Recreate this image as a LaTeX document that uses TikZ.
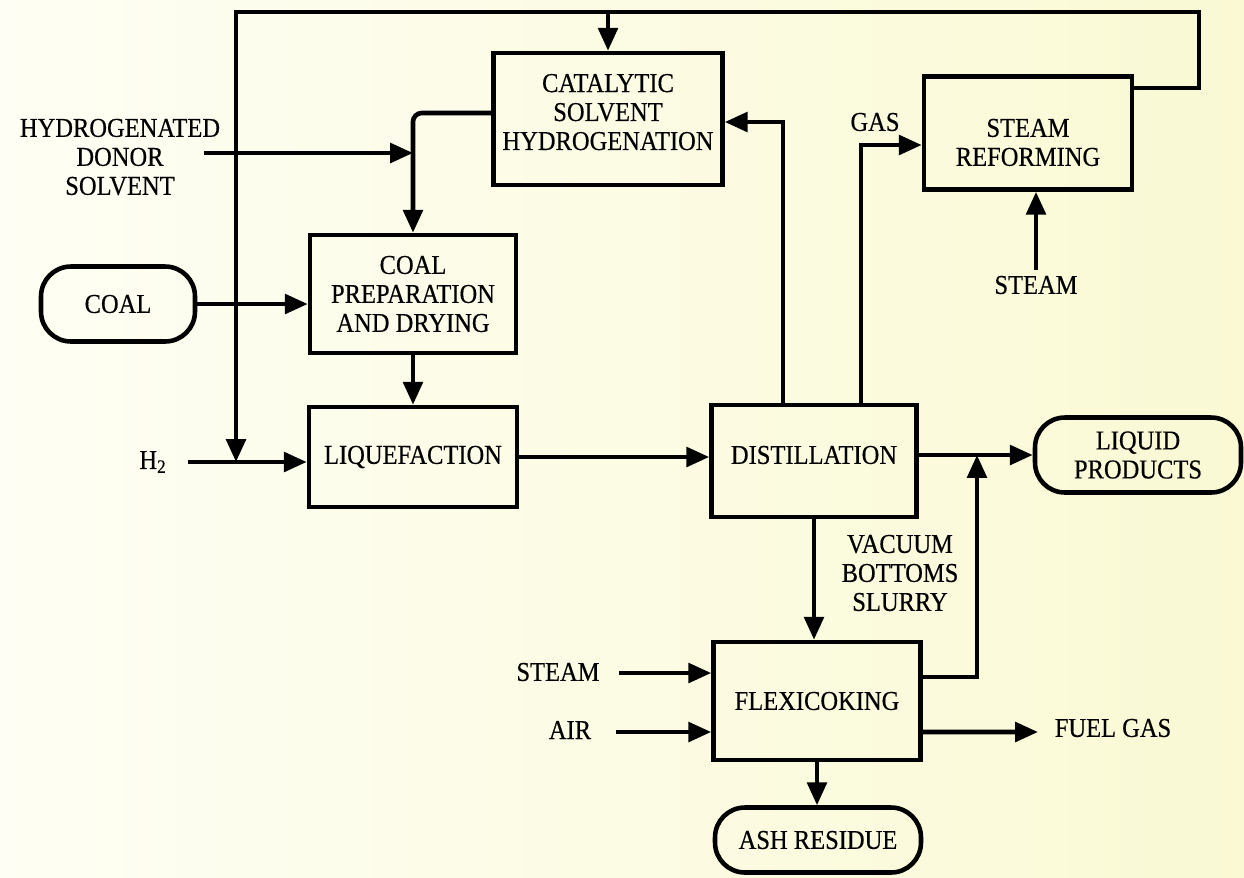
\documentclass[tikz,border=0pt]{standalone}
\usepackage{fontspec}
\setmainfont{Liberation Serif}[FakeStretch=0.9, FakeBold=0.4]
\usetikzlibrary{arrows.meta}

\definecolor{paperl}{RGB}{254,254,244}
\definecolor{paperr}{RGB}{250,249,212}

\tikzstyle{unit} = [draw, line width=2.6pt, align=center, inner sep=2pt]
\tikzstyle{term} = [draw, line width=2.6pt, rounded corners=17pt, align=center, inner sep=2pt]
\tikzstyle{flow} = [line width=2.6pt, -{Triangle[length=13pt,width=11pt]}]
\tikzstyle{lbl} = [align=center]

\begin{document}
\begin{tikzpicture}[x=0.02cm, y=-0.02cm, font=\fontsize{15.5}{16.5}\selectfont]
\shade[left color=paperl, right color=paperr] (0,0) rectangle (1244,877);
\useasboundingbox (0,0) rectangle (1244,877);

\node[unit, minimum width=4.58cm, minimum height=2.64cm] (cat) at (608,119)
    {CATALYTIC\\SOLVENT\\HYDROGENATION\rule[-8pt]{0pt}{8pt}};
\node[unit, minimum width=4.12cm, minimum height=2.36cm] (prep) at (413,294)
    {COAL\\PREPARATION\\AND DRYING};
\node[unit, minimum width=4.16cm, minimum height=2cm] (liq) at (413,457) {LIQUEFACTION};
\node[unit, minimum width=4.1cm, minimum height=2.24cm] (dist) at (814,461)
    {DISTILLATION\rule[-7pt]{0pt}{7pt}};
\node[unit, minimum width=4.16cm, minimum height=2.26cm] (ref) at (1028,133)
    {\rule{0pt}{21pt}STEAM\\REFORMING};
\node[unit, minimum width=4.14cm, minimum height=2.36cm] (flex) at (817,701) {FLEXICOKING};
\node[term, minimum width=3.08cm, minimum height=1.5cm] (coal) at (118,304) {COAL};
\node[term, minimum width=4.12cm, minimum height=1.5cm] (prod) at (1138,455)
    {LIQUID\\PRODUCTS};
\node[term, minimum width=4.12cm, minimum height=1.3cm] (ash) at (818,840) {ASH RESIDUE};

\node[lbl] (hds) at (120,157) {HYDROGENATED\\DONOR\\SOLVENT};
\node[lbl] (h2) at (153,462) {H\textsubscript{2}};
\node[lbl] (gas) at (875,122) {GAS};
\node[lbl] (stm1) at (1036,285) {STEAM};
\node[lbl] (vbs) at (900,573) {VACUUM\\BOTTOMS\\SLURRY};
\node[lbl] (stm2) at (558,672) {STEAM};
\node[lbl] (air) at (570,730) {AIR};
\node[lbl] (fuel) at (1113,728) {FUEL GAS};

\coordinate (h2in) at (188,462);
\coordinate (h2j) at (236,462);
\coordinate (topl) at (236,12);
\coordinate (topr) at (1199,12);
\coordinate (hdsin) at (204,153);
\coordinate (solj) at (413,153);
\coordinate (prodj) at (977,455);
\coordinate (stm2in) at (619,673);
\coordinate (airin) at (616,732);
\coordinate (fgout) at (1038,732);

\draw[flow] (h2in) -- (h2in -| liq.west);
\draw[flow] ([yshift=9mm]ref.east) -| (topr) -| (h2j);
\draw[flow] (cat.north |- topl) -- (cat.north);
\draw[flow] (hdsin) -- (solj);
\draw[flow, rounded corners=5pt] ([yshift=1.2mm]cat.west) -| (prep.north);
\draw[flow] (coal.east) -- (coal.east -| prep.west);
\draw[flow] (prep.south) -- (liq.north);
\draw[flow] (liq.east) -- (liq.east -| dist.west);
\draw[flow] ([xshift=-6.2mm]dist.north) |- ([yshift=-0.6mm]cat.east);
\draw[flow] ([xshift=9.4mm]dist.north) |- ([yshift=-2.4mm]ref.west);
\draw[flow] (stm1.north) -- (stm1.north |- ref.south);
\draw[flow] (dist.east |- prod.west) -- (prod.west);
\draw[flow] (dist.south) -- (dist.south |- flex.north);
\draw[flow] ([yshift=4.8mm]flex.east) -| (prodj);
\draw[flow] (stm2in) -- (stm2in -| flex.west);
\draw[flow] (airin) -- (airin -| flex.west);
\draw[flow] ([yshift=-6.2mm]flex.east) -- (fgout);
\draw[flow] (flex.south) -- (flex.south |- ash.north);
\end{tikzpicture}
\end{document}
